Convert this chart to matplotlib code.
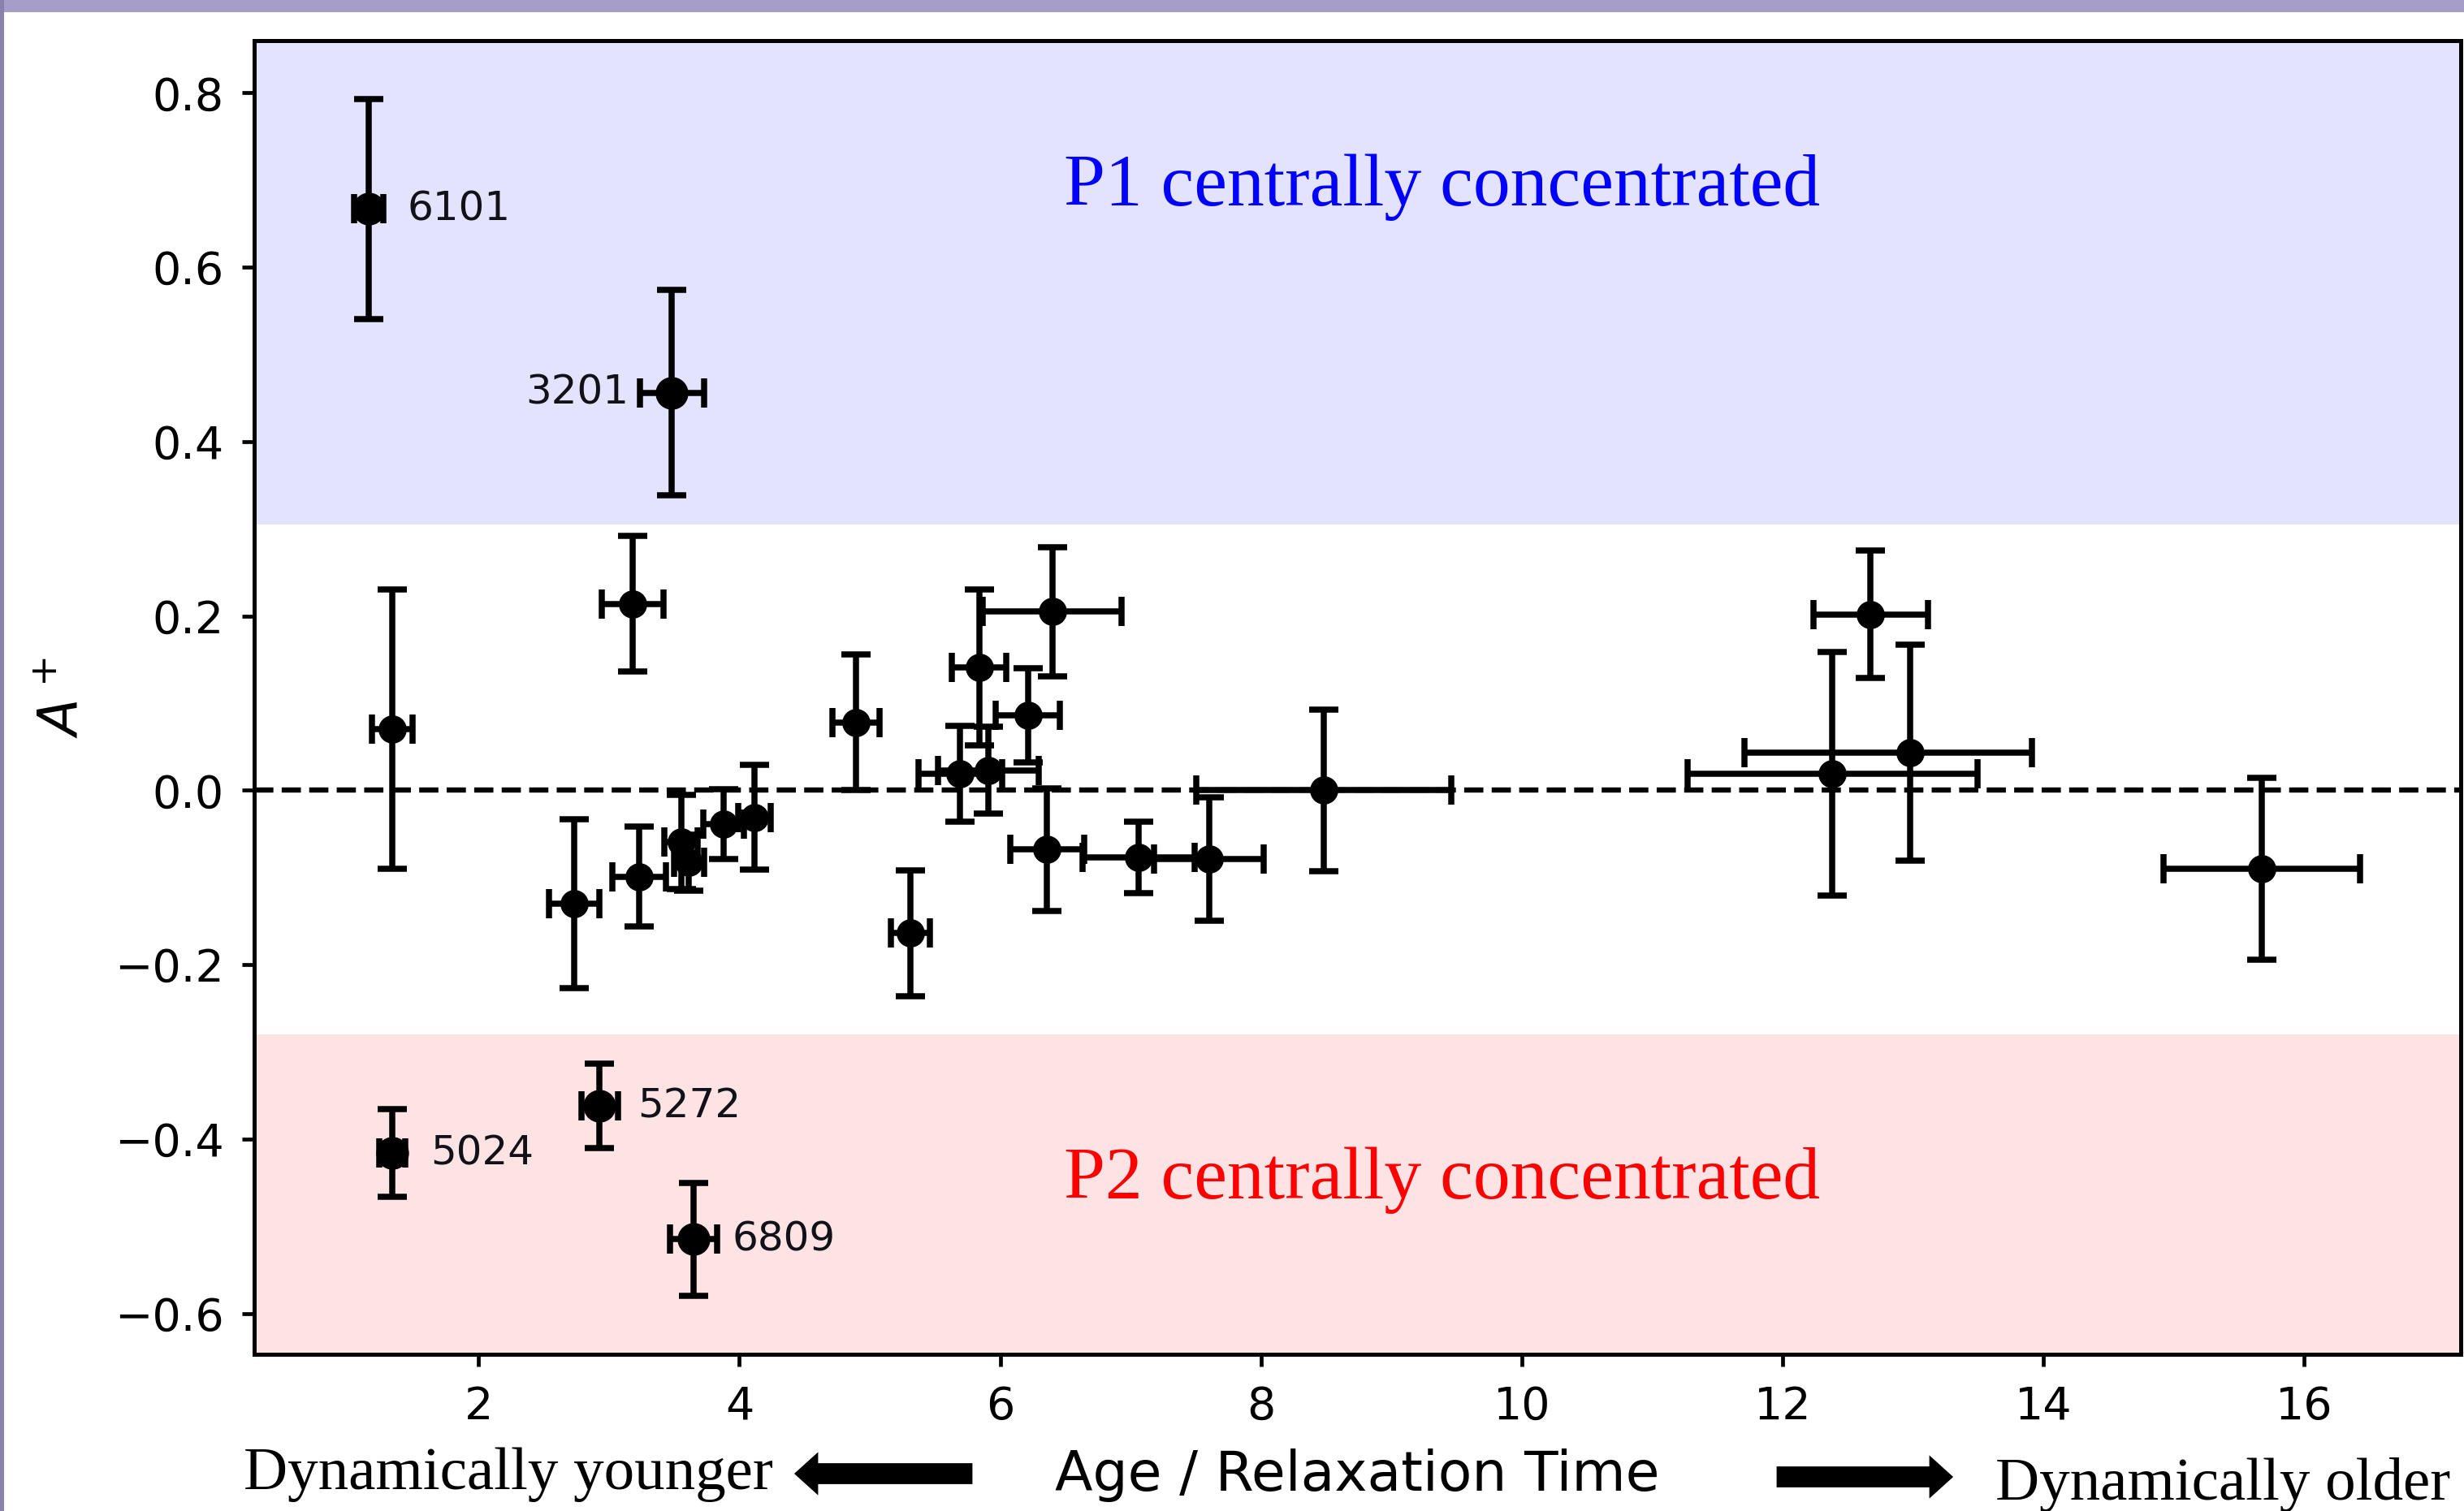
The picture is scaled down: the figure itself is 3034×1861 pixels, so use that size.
import matplotlib
matplotlib.use("Agg")
import matplotlib.pyplot as plt
import numpy as np
from matplotlib.patches import Rectangle, FancyArrow

# ---------------- data ----------------
age_trh = [1.157, 3.482, 1.337, 3.181, 2.735, 3.229, 3.554, 3.614, 3.880, 4.116,
           4.892, 5.313, 5.693, 5.839, 5.910, 6.212, 6.398, 6.358, 7.060, 7.602,
           8.482, 12.380, 12.675, 12.980, 15.675, 1.337, 2.928, 3.650]
a_plus = [0.667, 0.456, 0.070, 0.214, -0.130, -0.099, -0.059, -0.083, -0.039, -0.031,
          0.078, -0.164, 0.019, 0.141, 0.023, 0.086, 0.205, -0.068, -0.077, -0.079,
          0.000, 0.019, 0.202, 0.043, -0.090, -0.416, -0.362, -0.515]
age_err_lo = [0.11, 0.247, 0.157, 0.235, 0.193, 0.205, 0.127, 0.114, 0.157, 0.127,
              0.18, 0.15, 0.32, 0.21, 0.386, 0.247, 0.53, 0.283, 0.428, 0.42,
              0.976, 1.112, 0.437, 1.27, 0.755, 0.10, 0.139, 0.18]
age_err_hi = [0.11, 0.247, 0.157, 0.235, 0.193, 0.205, 0.127, 0.114, 0.157, 0.127,
              0.18, 0.15, 0.32, 0.21, 0.386, 0.247, 0.53, 0.283, 0.428, 0.42,
              0.976, 1.112, 0.437, 0.93, 0.755, 0.10, 0.139, 0.18]
a_plus_err = [0.126, 0.118, 0.16, 0.078, 0.097, 0.057, 0.054, 0.032, 0.04, 0.06,
              0.078, 0.072, 0.055, 0.089, 0.05, 0.054, 0.074, 0.07, 0.041, 0.071,
              0.093, 0.14, 0.073, 0.124, 0.104, 0.05, 0.048, 0.065]
cluster_labels = ["6101", "3201", "", "", "", "", "", "", "", "",
                  "", "", "", "", "", "", "", "", "", "",
                  "", "", "", "", "", "5024", "5272", "6809"]
label_side = ["right", "left", "", "", "", "", "", "", "", "",
              "", "", "", "", "", "", "", "", "", "",
              "", "", "", "", "", "right", "right", "right"]

x_ticks = [2, 4, 6, 8, 10, 12, 14, 16]
y_ticks = [-0.6, -0.4, -0.2, 0.0, 0.2, 0.4, 0.6, 0.8]
p1_limit = 0.305
p2_limit = -0.28

# ---------------- figure ----------------
W, H, DPI = 3034, 1861, 200
fig = plt.figure(figsize=(W / DPI, H / DPI), dpi=DPI)
fig.patch.set_facecolor("white")

# screenshot frame (purple strips at top and left)
fig.add_artist(Rectangle((0, 1 - 15 / H), 1, 15 / H, transform=fig.transFigure,
                         facecolor="#a69dc8", edgecolor="none", zorder=5))
fig.add_artist(Rectangle((0, 0), 5 / W, 1, transform=fig.transFigure,
                         facecolor="#8a80ac", edgecolor="none", zorder=5))

ax = fig.add_axes([0.1032, 0.1037, 0.8955, 0.8694])

ax.axhspan(p1_limit, 2.0, color="#e3e3fd", lw=0, zorder=0)
ax.axhspan(-2.0, p2_limit, color="#fde3e4", lw=0, zorder=0)
ax.axhline(0.0, color="black", ls="--", lw=2.3, zorder=1.5)

x = np.array(age_trh)
y = np.array(a_plus)
xlo = np.array(age_err_lo)
xhi = np.array(age_err_hi)
ye = np.array(a_plus_err)
labelled = np.array([bool(s) for s in cluster_labels])

for mask, ms in ((~labelled, 11.5), (labelled, 13.5)):
    ax.errorbar(x[mask], y[mask], xerr=[xlo[mask], xhi[mask]], yerr=ye[mask],
                fmt="o", color="black", ecolor="black", ms=ms, elinewidth=2.7,
                capsize=6.5, capthick=2.7, zorder=3)

for xv, yv, lab, side in zip(age_trh, a_plus, cluster_labels, label_side):
    if not lab:
        continue
    off = 17 if side == "right" else -19
    ax.annotate(lab, (xv, yv), xytext=(off, 0), textcoords="offset points",
                ha="left" if side == "right" else "right", va="center",
                fontsize=18, color="#111118", zorder=4)

ax.text(9.386, 0.692, "P1 centrally concentrated", color="blue",
        family="Liberation Serif", fontsize=33, ha="center", va="center")
ax.text(9.386, -0.447, "P2 centrally concentrated", color="red",
        family="Liberation Serif", fontsize=33, ha="center", va="center")

ax.set_xlim(0.28, 17.2)
ax.set_ylim(-0.647, 0.86)
ax.set_xticks(x_ticks)
ax.set_yticks(y_ticks)
ax.tick_params(labelsize=20, length=5.5, width=1.7, pad=8)
for sp in ax.spines.values():
    sp.set_linewidth(1.8)

ax.set_xlabel("Age / Relaxation Time", fontsize=24.5, va="baseline")
ax.xaxis.set_label_coords(0.5, -0.104)
ax.set_ylabel("$A^+$", fontsize=24, va="center")
ax.yaxis.set_label_coords(-0.087, 0.50)

# bottom annotations: direction of dynamical age
fig.text(300 / W, 27 / H, "Dynamically younger", family="Liberation Serif",
         fontsize=27, ha="left", va="baseline")
fig.text(2457 / W, 14 / H, "Dynamically older", family="Liberation Serif",
         fontsize=27, ha="left", va="baseline")

tr = fig.dpi_scale_trans
fig.add_artist(FancyArrow(1196 / DPI, 46 / DPI, -(1196 - 980) / DPI, 0, width=23 / DPI,
                          head_width=47 / DPI, head_length=26 / DPI,
                          length_includes_head=True, color="black", transform=tr))
fig.add_artist(FancyArrow(2189 / DPI, 42 / DPI, (2403 - 2189) / DPI, 0, width=23 / DPI,
                          head_width=47 / DPI, head_length=26 / DPI,
                          length_includes_head=True, color="black", transform=tr))

fig.savefig("out.png", dpi=DPI)
